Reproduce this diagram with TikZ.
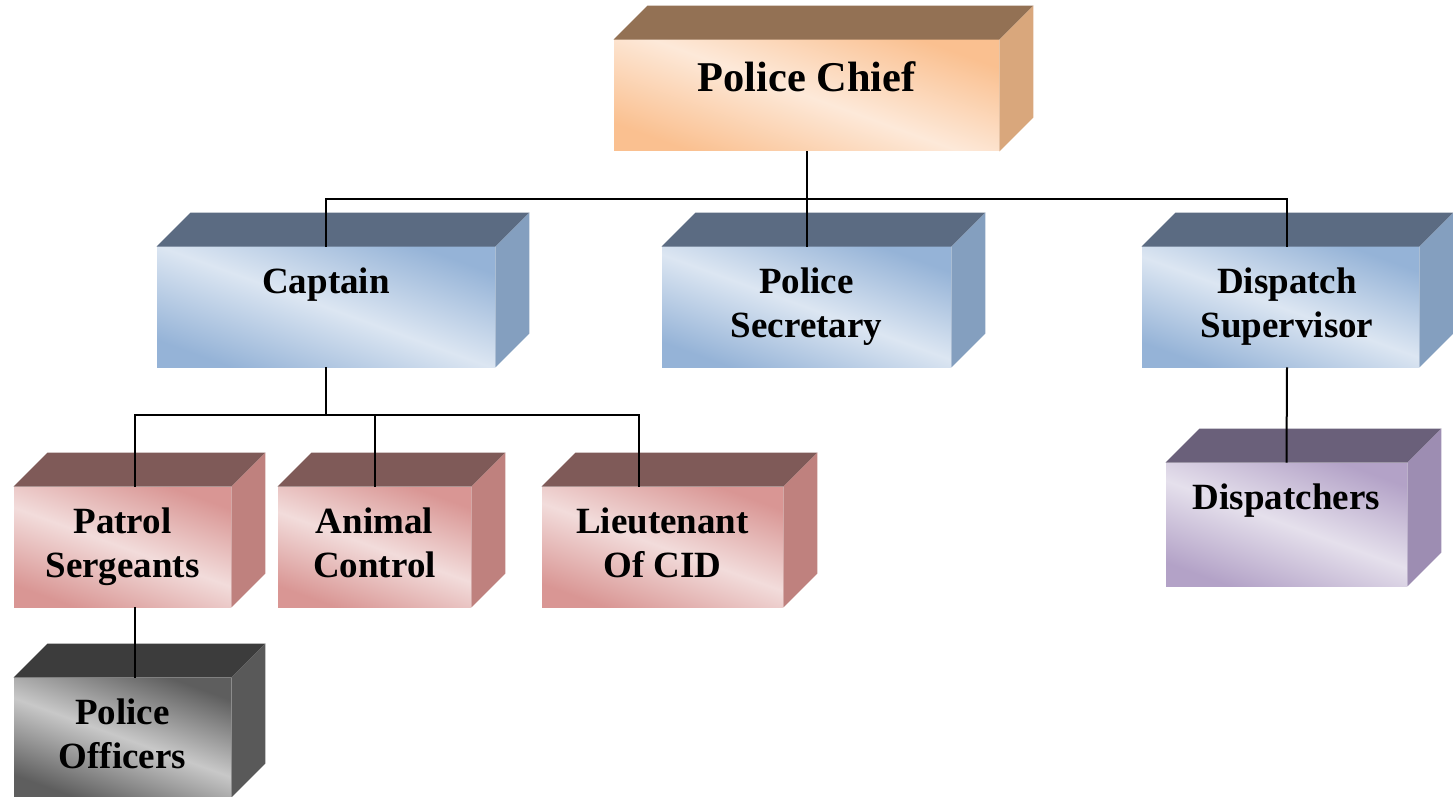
\documentclass[tikz,border=0pt]{standalone}
\usepackage{fontspec}
\setmainfont{Liberation Serif}
\usetikzlibrary{positioning}

\definecolor{topchief}{HTML}{937154}
\definecolor{sidechief}{HTML}{D9A77C}
\definecolor{darkchief}{HTML}{FAC090}
\definecolor{lightchief}{HTML}{FDE9D9}
\definecolor{topblue}{HTML}{5B6B82}
\definecolor{sideblue}{HTML}{849FBF}
\definecolor{darkblue}{HTML}{95B3D7}
\definecolor{lightblue}{HTML}{DCE6F2}
\definecolor{toppink}{HTML}{7F5A58}
\definecolor{sidepink}{HTML}{BF817E}
\definecolor{darkpink}{HTML}{D99694}
\definecolor{lightpink}{HTML}{F2DCDB}
\definecolor{topgrey}{HTML}{3C3C3C}
\definecolor{sidegrey}{HTML}{595959}
\definecolor{darkgrey}{HTML}{5E5E5E}
\definecolor{lightgrey}{HTML}{C8C8C8}
\definecolor{toppurple}{HTML}{6A607A}
\definecolor{sidepurple}{HTML}{9D8DB2}
\definecolor{darkpurple}{HTML}{B3A2C7}
\definecolor{lightpurple}{HTML}{E5E0EC}

\begin{document}
\begin{tikzpicture}[x=0.5pt, y=-0.5pt,
  face/.style={shade, shading=axis, top color=dark#1, bottom color=dark#1, middle color=light#1, shading angle=-20, minimum height=60pt, inner sep=0pt},
  lbl/.style={font=\bfseries\fontsize{18.5}{22}\selectfont, align=center, inner sep=0pt},
  link/.style={line width=1pt}]
\useasboundingbox (0,0) rectangle (1453,797);

% front faces
\node[face=chief, minimum width=192.5pt, minimum height=55.5pt] (chief) at (806.5,95.5) {};
\node[face=blue, minimum width=169pt] (cap) at (326,307) {};
\node[face=blue, minimum width=144.5pt] (sec) at (806.5,307) {};
\node[face=blue, minimum width=138.5pt] (disp) at (1280.5,307) {};
\node[face=pink, minimum width=108.5pt] (pat) at (122.5,547) {};
\node[face=pink, minimum width=96.5pt] (ani) at (374.5,547) {};
\node[face=pink, minimum width=120.5pt] (lt) at (662.5,547) {};
\node[face=grey, minimum width=108.5pt, minimum height=59.5pt] (off) at (122.5,737.5) {};
\node[face=purple, minimum width=120.5pt, minimum height=61.5pt] (dsp) at (1286.5,524.5) {};

% top and side faces
\foreach \n/\col in {chief/chief, cap/blue, sec/blue, disp/blue, pat/pink, ani/pink, lt/pink, off/grey, dsp/purple} {
  \fill[fill=top\col] (\n.north west) -- ++(17pt,17pt) -- ([shift={(17pt,17pt)}]\n.north east) -- (\n.north east) -- cycle;
  \fill[fill=side\col] (\n.north east) -- ++(17pt,17pt) -- ([shift={(17pt,17pt)}]\n.south east) -- (\n.south east) -- cycle;
}

% labels
\node[lbl, font=\bfseries\fontsize{21.2}{25}\selectfont, below=11pt of chief.north] (chieft) {Police Chief};
\node[lbl, below=10.5pt of cap.north] (capt) {Captain};
\node[lbl, below=10.5pt of sec.north] (sect) {Police\\Secretary};
\node[lbl, below=10.5pt of disp.north, xshift=3.25pt] (dispt) {Dispatch\\Supervisor};
\node[lbl, below=10.5pt of pat.north] (patt) {Patrol\\Sergeants};
\node[lbl, below=10.5pt of ani.north] (anit) {Animal\\Control};
\node[lbl, below=10.5pt of lt.north] (ltt) {Lieutenant\\Of CID};
\node[lbl, below=10.5pt of off.north] (offt) {Police\\Officers};
\node[lbl, below=10.5pt of dsp.north] (dspt) {Dispatchers};

% connectors
\draw[link] (chief.south) -- ++(0,-24pt) coordinate (bus1);
\draw[link] (cap.north) |- (bus1) -| ([xshift=3.25pt]disp.north);
\draw[link] (bus1) -- (sec.north);
\draw[link] (cap.south) -- ++(0,-24pt) coordinate (bus2);
\draw[link] ([xshift=6.25pt]pat.north) |- (bus2) -| ([xshift=-11.75pt]lt.north);
\draw[link] (ani.north) -- (ani.north |- bus2);
\draw[link] ([xshift=6.25pt]pat.south) -- ([xshift=6.25pt]off.north);
\draw[link] ([xshift=3.25pt]disp.south) -- (dsp.north);
\end{tikzpicture}
\end{document}
